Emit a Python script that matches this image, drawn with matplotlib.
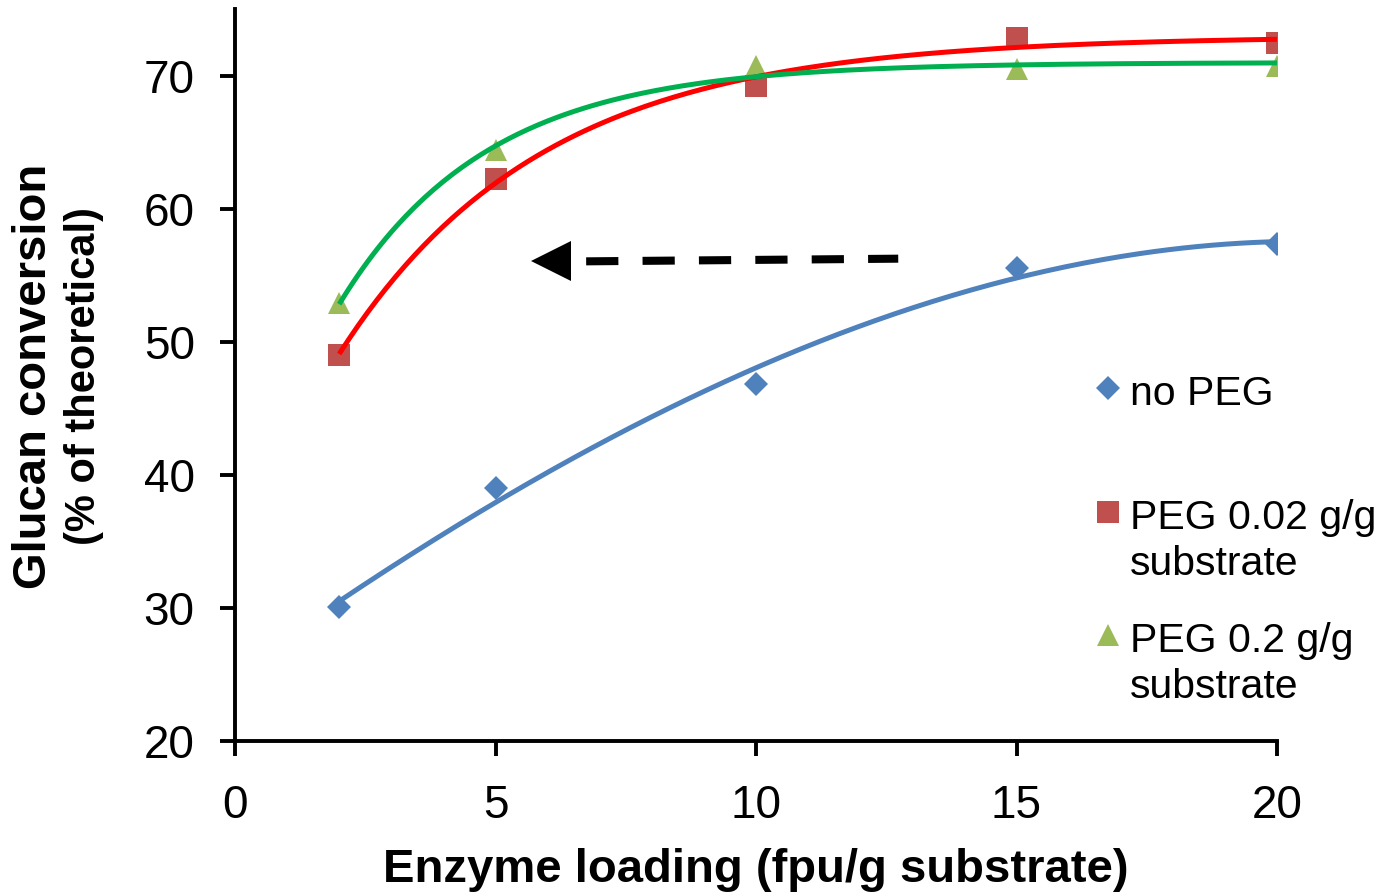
import numpy as np
import matplotlib
matplotlib.use("Agg")
import matplotlib.pyplot as plt
from matplotlib.lines import Line2D

plt.rcParams["font.family"] = ["Liberation Sans", "DejaVu Sans"]

# data
loading = [2, 5, 10, 15, 20]
no_peg = [30.07, 39.01, 46.83, 55.55, 57.35]
peg_002 = [49.01, 62.24, 69.23, 72.83, 72.49]
peg_02 = [52.9, 64.4, 70.73, 70.5, 70.73]

# label, values, marker, size, marker colour, trend colour, trend kind
series = [
    ("no PEG", no_peg, "D", 12.5, "#4F81BD", "#4F81BD", "poly"),
    ("PEG 0.02 g/g\nsubstrate", peg_002, "s", 15.5, "#C0504D", "#FF0000", "sat"),
    ("PEG 0.2 g/g\nsubstrate", peg_02, "^", 15.5, "#9BBB59", "#00B050", "sat"),
]


def saturation_fit(x, y, xs):
    # y = a - b*exp(-k x), least squares for a, b on a grid of k
    x = np.asarray(x, float)
    y = np.asarray(y, float)
    best = None
    for k in np.linspace(0.05, 1.0, 400):
        A = np.column_stack([np.ones_like(x), -np.exp(-k * x)])
        coef, res, *_ = np.linalg.lstsq(A, y, rcond=None)
        err = np.sum((A @ coef - y) ** 2)
        if best is None or err < best[0]:
            best = (err, k, coef)
    _, k, (a, b) = best
    return a - b * np.exp(-k * xs)


W, H = 1384, 893
fig = plt.figure(figsize=(W / 100, H / 100), dpi=100)
ax = fig.add_axes([235 / W, 1 - 741 / H, (1277 - 235) / W, (741 - 9.2) / H])


def px(x, y):
    return x / W, 1 - y / H


xs = np.linspace(2, 20, 200)
for label, vals, marker, ms, mcol, lcol, kind in series:
    ax.plot(loading, vals, linestyle="none", marker=marker, markersize=ms,
            color=mcol, markeredgewidth=0, zorder=3)
    if kind == "sat":
        trend = saturation_fit(loading, vals, xs)
    else:
        trend = np.polyval(np.polyfit(loading, vals, 3), xs)
    ax.plot(xs, trend, color=lcol, linewidth=3.6, zorder=4,
            solid_capstyle="butt")

# dashed arrow pointing left
ax.plot([6.74, 12.73], [56.05, 56.25], color="black", linewidth=5.8,
        dashes=(4, 3), dash_capstyle="butt", zorder=5)
ax.plot([6.07], [56.07], marker="<", markersize=29, color="black",
        markeredgewidth=0, zorder=5)

ax.set_xlim(0, 20)
ax.set_ylim(20, 75)
ax.set_xticks([0, 5, 10, 15, 20])
ax.set_yticks([20, 30, 40, 50, 60, 70])
for side in ("top", "right"):
    ax.spines[side].set_visible(False)
for side in ("left", "bottom"):
    ax.spines[side].set_linewidth(2.8)
ax.tick_params(axis="both", direction="out", length=11, width=2.8,
               labelsize=33)
ax.tick_params(axis="x", pad=20)
ax.tick_params(axis="y", pad=18)

ax.set_xlabel("Enzyme loading (fpu/g substrate)", fontsize=34,
              fontweight="bold", labelpad=14)
fig.text(*px(34, 376), "Glucan conversion", rotation=90, fontsize=34,
         fontweight="bold", ha="center", va="center")
fig.text(*px(84, 376), "(% of theoretical)", rotation=90, fontsize=30,
         fontweight="bold", ha="center", va="center")

# legend drawn by hand to match the spacing of the original
leg_rows = [388, 512, 635]
for (label, vals, marker, ms, mcol, lcol, kind), yrow in zip(series, leg_rows):
    fig.add_artist(Line2D([1108 / W], [1 - yrow / H], transform=fig.transFigure,
                          marker=marker, markersize=ms, color=mcol,
                          markeredgewidth=0, linestyle="none"))
    for i, line in enumerate(label.split("\n")):
        fig.text(*px(1130, yrow + 17 + 46 * i), line, fontsize=29.5,
                 ha="left", va="baseline")

fig.savefig("out.png", dpi=100)
